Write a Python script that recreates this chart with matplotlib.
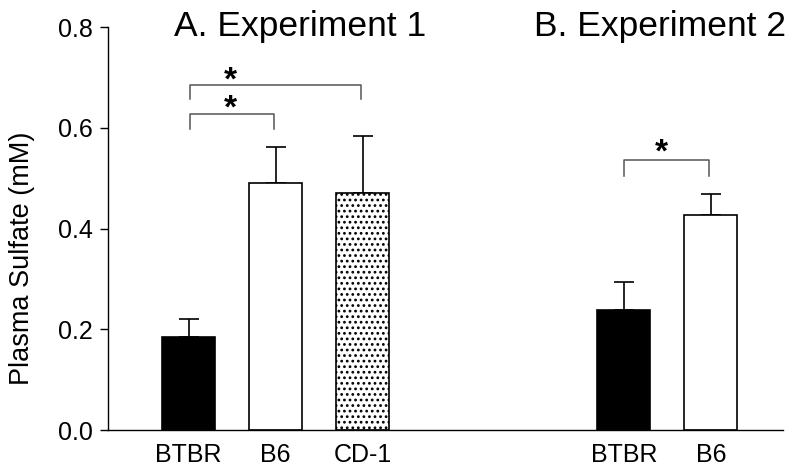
import matplotlib.pyplot as plt
import numpy as np

plt.rcParams['font.family'] = ['Liberation Sans', 'DejaVu Sans']
plt.rcParams['mathtext.fontset'] = 'custom'
plt.rcParams['mathtext.bf'] = 'Liberation Sans:bold'
plt.rcParams['mathtext.rm'] = 'Liberation Sans'
plt.rcParams['hatch.linewidth'] = 1.2

strains = ['BTBR', 'B6', 'CD-1', 'BTBR', 'B6']
positions = [1, 2, 3, 6, 7]
means = [0.184, 0.490, 0.471, 0.238, 0.427]
sems = [0.036, 0.072, 0.113, 0.055, 0.042]
colors = ['black', 'white', 'white', 'black', 'white']
hatches = ['', '', '...', '', '']

fig = plt.figure(figsize=(8, 4.75), dpi=100)
ax = fig.add_axes([0.135, 0.0947, 0.844, 0.848])

for x, m, s, c, h in zip(positions, means, sems, colors, hatches):
    ax.bar(x, m, width=0.61, color=c, edgecolor='black', linewidth=1.2, hatch=h, zorder=2)
    ax.errorbar(x, m, yerr=[[0], [s]], color='black', capsize=7, capthick=1.2,
                elinewidth=1.2, fmt='none', zorder=1)

# significance brackets
def bracket(x1, x2, y, leg):
    ax.plot([x1, x1, x2, x2], [y - leg, y, y, y - leg], color='#555555', lw=1.1, clip_on=False)

bracket(1.02, 2.98, 0.686, 0.028)
bracket(1.02, 1.98, 0.628, 0.030)
bracket(6.0, 6.98, 0.537, 0.032)
star = dict(ha='center', va='baseline', fontsize=24)
ax.text(1.48, 0.679, r'$\mathbf{*}$', **star)
ax.text(1.48, 0.622, r'$\mathbf{*}$', **star)
ax.text(6.43, 0.535, r'$\mathbf{*}$', **star)

ax.text(2.28, 0.768, 'A. Experiment 1', ha='center', va='bottom', fontsize=25.5)
ax.text(6.41, 0.768, 'B. Experiment 2', ha='center', va='bottom', fontsize=25.5)

ax.set_xlim(0.075, 7.83)
ax.set_ylim(0, 0.8)
ax.set_yticks([0.0, 0.2, 0.4, 0.6, 0.8])
ax.set_yticklabels(['0.0', '0.2', '0.4', '0.6', '0.8'])
ax.set_xticks(positions)
ax.set_xticklabels(strains)
ax.tick_params(axis='x', length=0, pad=9, labelsize=18)
ax.tick_params(axis='y', length=6, width=1, labelsize=18, pad=5)
ax.set_ylabel('Plasma Sulfate (mM)', fontsize=19.5)
ax.yaxis.set_label_coords(-0.108, 0.427)

for side in ['top', 'right']:
    ax.spines[side].set_visible(False)
ax.spines['left'].set_linewidth(1)
ax.spines['bottom'].set_linewidth(1)

fig.savefig('out.png', dpi=100)
